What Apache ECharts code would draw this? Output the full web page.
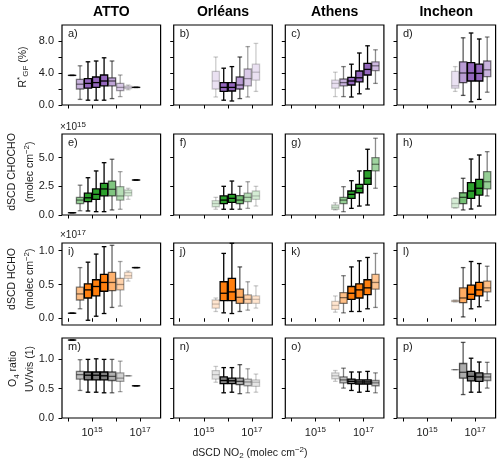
<!DOCTYPE html>
<html>
<head>
<meta charset="utf-8">
<script src="https://cdn.jsdelivr.net/npm/echarts@6/dist/echarts.min.js"></script>
<style>
  html, body { margin: 0; padding: 0; background: #fff; }
  #chart { width: 500px; height: 467px; }
</style>
</head>
<body>
<div id="chart"></div>
<script>
// stations (columns) and quantities (rows)
const stations = ["ATTO", "Orléans", "Athens", "Incheon"];
const panelLetters = ["a", "b", "c", "d", "e", "f", "g", "h", "i", "j", "k", "l", "m", "n", "o", "p"];

// log10 of the dSCD NO2 bin centres (molec cm-2), third-of-a-decade bins
const binLog = [14.17, 14.5, 14.83, 15.17, 15.5, 15.83, 16.17, 16.5, 16.83, 17.17, 17.5];
// first bin used at each station
const firstBin = [0, 4, 5, 6];

// opacity of each bin (scaled with number of measurements)
const alphaATTO = [0.8, 0.5, 1, 1, 1, 0.6, 0.35, 0.2, 0.8];
const alphaOrleans = [0.2, 1, 1, 0.65, 0.35, 0.2];
const alphaAthens = [0.2, 0.5, 1, 1, 1, 0.45];
const alphaIncheon = [0.2, 0.65, 1, 1, 0.5];

// box values: [whisker low, q1, median, q3, whisker high]
// R*GF (%)
const rgfATTO = [
  [3.7, 3.7, 3.7, 3.7, 3.7], [0.7, 2.0, 2.6, 3.2, 4.9], [0.6, 2.1, 2.7, 3.3, 5.4],
  [0.6, 2.2, 2.8, 3.5, 5.5], [0.6, 2.4, 3.0, 3.75, 5.9], [0.8, 2.4, 3.0, 3.4, 5.5],
  [1.05, 1.8, 2.2, 2.7, 3.75], [1.9, 2.05, 2.2, 2.35, 2.5], [2.2, 2.2, 2.2, 2.2, 2.2]
];
const rgfOrleans = [
  [1.0, 2.0, 3.0, 4.2, 6.0], [0.6, 1.7, 2.2, 2.8, 4.6], [0.5, 1.75, 2.2, 2.8, 4.8],
  [0.8, 2.0, 2.5, 3.5, 6.0], [1.0, 2.4, 3.3, 4.5, 7.3], [1.7, 3.1, 4.1, 5.1, 7.7]
];
const rgfAthens = [
  [1.05, 2.1, 2.7, 3.1, 4.1], [1.05, 2.4, 2.8, 3.25, 4.8], [1.0, 2.5, 3.0, 3.45, 5.1],
  [1.4, 2.9, 3.4, 4.25, 6.5], [2.0, 3.75, 4.45, 5.2, 7.4], [2.7, 4.3, 4.9, 5.4, 6.9]
];
const rgfIncheon = [
  [1.7, 2.1, 2.4, 4.2, 4.8], [1.2, 2.8, 4.0, 5.4, 8.4], [0.4, 3.0, 4.0, 5.3, 9.0],
  [0.7, 3.0, 3.95, 5.1, 8.25], [1.6, 3.55, 4.4, 5.5, 8.5]
];

// dSCD CHOCHO (x 1e15 molec cm-2)
const chochoATTO = [
  [0.2, 0.2, 0.2, 0.2, 0.2], [0.37, 1.0, 1.3, 1.54, 2.6], [0.35, 1.16, 1.5, 1.9, 3.25],
  [0.29, 1.37, 1.8, 2.27, 3.84], [0.29, 1.66, 2.27, 2.76, 4.56], [0.44, 1.66, 2.24, 2.96, 4.86],
  [0.5, 1.3, 1.66, 2.47, 3.78], [1.37, 1.66, 1.94, 2.18, 2.33], [3.05, 3.05, 3.05, 3.05, 3.05]
];
const chochoOrleans = [
  [0.5, 0.72, 1.0, 1.25, 1.54], [0.5, 1.0, 1.3, 1.66, 2.5], [0.5, 1.1, 1.45, 1.8, 2.96],
  [0.5, 1.0, 1.3, 1.69, 2.5], [0.58, 1.16, 1.54, 1.9, 2.9], [0.78, 1.37, 1.66, 2.09, 2.5]
];
const chochoAthens = [
  [0.44, 0.5, 0.67, 0.87, 1.07], [0.29, 1.0, 1.3, 1.54, 2.47], [0.58, 1.45, 1.8, 2.09, 2.99],
  [0.78, 1.94, 2.33, 2.67, 3.84], [0.87, 2.67, 3.2, 3.86, 5.73], [2.33, 3.84, 4.42, 5.0, 6.69]
];
const chochoIncheon = [
  [0.6, 0.64, 1.0, 1.45, 1.5], [0.44, 1.0, 1.54, 1.94, 3.2], [0.52, 1.45, 2.09, 2.82, 4.88],
  [0.78, 1.74, 2.33, 3.11, 5.23], [1.66, 2.27, 2.9, 3.78, 5.52]
];

// dSCD HCHO (x 1e17 molec cm-2)
const hchoATTO = [
  [0.074, 0.074, 0.074, 0.074, 0.074], [0.14, 0.27, 0.36, 0.46, 0.75], [-0.03, 0.30, 0.42, 0.51, 0.83],
  [0.03, 0.33, 0.47, 0.57, 0.95], [0.07, 0.40, 0.53, 0.65, 1.06], [0.16, 0.41, 0.53, 0.68, 1.08],
  [0.18, 0.42, 0.50, 0.59, 0.84], [0.55, 0.59, 0.63, 0.68, 0.70], [0.75, 0.75, 0.75, 0.75, 0.75]
];
const hchoOrleans = [
  [0.10, 0.15, 0.21, 0.27, 0.30], [0.08, 0.26, 0.37, 0.54, 0.96], [0.07, 0.26, 0.39, 0.59, 1.11],
  [0.10, 0.22, 0.31, 0.43, 0.76], [0.12, 0.22, 0.28, 0.345, 0.54], [0.15, 0.22, 0.28, 0.33, 0.48]
];
const hchoAthens = [
  [0.09, 0.13, 0.19, 0.25, 0.33], [0.08, 0.22, 0.305, 0.38, 0.63], [0.10, 0.28, 0.37, 0.47, 0.76],
  [0.10, 0.30, 0.42, 0.51, 0.85], [0.14, 0.35, 0.45, 0.57, 0.90], [0.16, 0.43, 0.53, 0.65, 0.96]
];
const hchoIncheon = [
  [0.24, 0.245, 0.255, 0.265, 0.27], [0.02, 0.23, 0.30, 0.45, 0.75], [0.14, 0.28, 0.355, 0.49, 0.84],
  [0.17, 0.33, 0.42, 0.53, 0.81], [0.26, 0.39, 0.45, 0.55, 0.77]
];

// O4 ratio UV/vis
const o4ATTO = [
  [1.33, 1.33, 1.33, 1.33, 1.33], [0.47, 0.665, 0.74, 0.795, 0.995], [0.44, 0.65, 0.73, 0.785, 1.0],
  [0.44, 0.65, 0.73, 0.785, 1.01], [0.43, 0.65, 0.72, 0.785, 1.0], [0.43, 0.64, 0.71, 0.785, 1.0],
  [0.45, 0.625, 0.68, 0.77, 0.97], [0.72, 0.72, 0.72, 0.72, 0.72], [0.55, 0.55, 0.55, 0.55, 0.55]
];
const o4Orleans = [
  [0.61, 0.665, 0.74, 0.81, 0.88], [0.43, 0.585, 0.64, 0.70, 0.86], [0.44, 0.585, 0.635, 0.68, 0.86],
  [0.415, 0.57, 0.625, 0.68, 0.91], [0.43, 0.55, 0.615, 0.665, 0.84], [0.44, 0.54, 0.61, 0.65, 0.75]
];
const o4Athens = [
  [0.625, 0.67, 0.72, 0.77, 0.81], [0.51, 0.60, 0.65, 0.70, 0.85], [0.47, 0.585, 0.625, 0.665, 0.785],
  [0.44, 0.58, 0.615, 0.65, 0.785], [0.455, 0.58, 0.615, 0.65, 0.795], [0.43, 0.55, 0.60, 0.64, 0.77]
];
const o4Incheon = [
  [0.825, 0.825, 0.825, 0.825, 0.825], [0.40, 0.68, 0.78, 0.93, 1.29], [0.44, 0.635, 0.71, 0.795, 1.02],
  [0.44, 0.625, 0.70, 0.77, 0.955], [0.51, 0.64, 0.70, 0.755, 0.95]
];

// axis ranges and ticks per row
const yMin = [0, 0, -0.1, 0];
const yMax = [10, 7.06, 1.114, 1.365];
const yTicks = [[0, 2, 4, 6, 8], [0, 2.5, 5], [0, 0.5, 1], [0, 0.5, 1]];
const yTickLabels = [[0, 4, 8], [0, 2.5, 5], [0, 0.5, 1], [0, 0.5, 1]];
const xTicks = [1e14, 1e15, 1e16, 1e17];
const xTickLabels = [1e15, 1e17];

const rowColors = ["#9467bd", "#2ca02c", "#ff7f0e", "#7f7f7f"];
const alphas = [alphaATTO, alphaOrleans, alphaAthens, alphaIncheon];
const rowData = [
  [rgfATTO, rgfOrleans, rgfAthens, rgfIncheon],
  [chochoATTO, chochoOrleans, chochoAthens, chochoIncheon],
  [hchoATTO, hchoOrleans, hchoAthens, hchoIncheon],
  [o4ATTO, o4Orleans, o4Athens, o4Incheon],
];

const colLeft = [62, 173.7, 285.3, 397];
const panelW = 98.6;
const rowTop = [25, 134, 243, 338];
const rowH = [80, 81, 82, 80];

const FONT = "Liberation Sans, Arial, sans-serif";
const TXT = "#1a1a1a";

const chart = echarts.init(document.getElementById("chart"), null, { renderer: "canvas" });

const renderBox = (color) => (params, api) => {
  const x = api.value(0);
  const a = api.value(6);
  const cx = api.coord([x, api.value(3)])[0];
  const yLo = api.coord([x, api.value(1)])[1];
  const yQ1 = api.coord([x, api.value(2)])[1];
  const yMed = api.coord([x, api.value(3)])[1];
  const yQ3 = api.coord([x, api.value(4)])[1];
  const yHi = api.coord([x, api.value(5)])[1];
  const hw = 3.6;
  const cw = 2.3;
  const line = { stroke: "#000", lineWidth: 1.3, opacity: a };
  return {
    type: "group",
    children: [
      { type: "line", shape: { x1: cx, y1: yQ3, x2: cx, y2: yHi }, style: line },
      { type: "line", shape: { x1: cx, y1: yQ1, x2: cx, y2: yLo }, style: line },
      { type: "line", shape: { x1: cx - cw, y1: yHi, x2: cx + cw, y2: yHi }, style: line },
      { type: "line", shape: { x1: cx - cw, y1: yLo, x2: cx + cw, y2: yLo }, style: line },
      {
        type: "rect",
        shape: { x: cx - hw, y: yQ3, width: hw * 2, height: Math.max(yQ1 - yQ3, 0.01) },
        style: { fill: color, stroke: "#000", lineWidth: 1.3, opacity: a },
      },
      { type: "line", shape: { x1: cx - hw, y1: yMed, x2: cx + hw, y2: yMed }, style: line },
    ],
  };
};

const grids = [];
const xAxes = [];
const yAxes = [];
const series = [];
const graphics = [];

for (let r = 0; r < 4; r++) {
  for (let c = 0; c < 4; c++) {
    const g = r * 4 + c;
    grids.push({
      left: colLeft[c],
      top: rowTop[r],
      width: panelW,
      height: rowH[r],
      show: true,
      borderColor: "#000",
      borderWidth: 1.2,
      backgroundColor: "transparent",
    });
    xAxes.push({
      type: "log",
      logBase: 10,
      gridIndex: g,
      min: Math.pow(10, 13.75),
      max: Math.pow(10, 17.85),
      axisLine: { show: false },
      splitLine: { show: false },
      axisTick: { show: true, length: 3.5, lineStyle: { color: "#000", width: 1 }, customValues: xTicks },
      axisLabel: {
        show: r === 3,
        customValues: xTickLabels,
        margin: 8,
        formatter: (v) => "10{sup|" + Math.round(Math.log10(v)) + "}",
        fontFamily: FONT,
        fontSize: 11,
        lineHeight: 14,
        color: TXT,
        rich: { sup: { fontSize: 8, verticalAlign: "top", lineHeight: 9, fontFamily: FONT, color: TXT } },
      },
    });
    yAxes.push({
      type: "value",
      gridIndex: g,
      min: yMin[r],
      max: yMax[r],
      axisLine: { show: false },
      splitLine: { show: false },
      axisTick: { show: true, length: 3.5, lineStyle: { color: "#000", width: 1 }, customValues: yTicks[r] },
      axisLabel: {
        show: c === 0,
        customValues: yTickLabels[r],
        margin: 8,
        formatter: (v) => v.toFixed(1),
        fontFamily: FONT,
        fontSize: 11,
        color: TXT,
      },
    });
    const vals = rowData[r][c];
    series.push({
      type: "custom",
      xAxisIndex: g,
      yAxisIndex: g,
      clip: false,
      renderItem: renderBox(rowColors[r]),
      encode: { x: 0, y: [1, 2, 3, 4, 5] },
      data: vals.map((b, i) => [Math.pow(10, binLog[firstBin[c] + i]), ...b, alphas[c][i]]),
    });
    graphics.push({
      type: "text",
      x: colLeft[c] + 6,
      y: rowTop[r] + 3,
      style: { text: panelLetters[g] + ")", font: "11px " + FONT, fill: TXT, textAlign: "left", textVerticalAlign: "top" },
    });
  }
}

// column titles
stations.forEach((s, c) => {
  graphics.push({
    type: "text",
    x: colLeft[c] + panelW / 2,
    y: 12,
    style: { text: s, font: "bold 14px " + FONT, fill: "#000", textAlign: "center", textVerticalAlign: "middle" },
  });
});

const richSub = {
  sub: { fontSize: 8, verticalAlign: "bottom", lineHeight: 9, fontFamily: FONT, fill: TXT, color: TXT },
  sup: { fontSize: 8, verticalAlign: "top", lineHeight: 9, fontFamily: FONT, fill: TXT, color: TXT },
};

const rotText = (text, x, y) => ({
  type: "text",
  x: x,
  y: y,
  rotation: Math.PI / 2,
  style: {
    text: text,
    fontFamily: FONT,
    fontSize: 10.5,
    lineHeight: 14,
    fill: TXT,
    align: "center",
    verticalAlign: "middle",
    rich: richSub,
  },
});

graphics.push(rotText("R{sup|*}{sub|GF} (%)", 23, 67));
graphics.push(rotText("dSCD CHOCHO", 11.7, 172));
graphics.push(rotText("(molec cm{sup|−2})", 30, 172));
graphics.push(rotText("dSCD HCHO", 11.7, 279));
graphics.push(rotText("(molec cm{sup|−2})", 30, 279));
graphics.push(rotText("O{sub|4} ratio", 13.3, 369));
graphics.push(rotText("UV/vis (1)", 30, 369));

// offset (exponent) labels
const offText = (text, x, y) => ({
  type: "text",
  x: x,
  y: y,
  style: {
    text: text,
    fontFamily: FONT,
    fontSize: 10,
    lineHeight: 13,
    fill: TXT,
    align: "left",
    verticalAlign: "middle",
    rich: richSub,
  },
});
graphics.push(offText("×10{sup|15}", 60, 127));
graphics.push(offText("×10{sup|17}", 60, 235));

// x axis title
graphics.push({
  type: "text",
  x: 250,
  y: 453,
  style: {
    text: "dSCD NO{sub|2} (molec cm{sup|−2})",
    fontFamily: FONT,
    fontSize: 10.5,
    lineHeight: 14,
    fill: TXT,
    align: "center",
    verticalAlign: "middle",
    rich: richSub,
  },
});

chart.setOption({
  animation: false,
  backgroundColor: "#fff",
  grid: grids,
  xAxis: xAxes,
  yAxis: yAxes,
  series: series,
  graphic: { elements: graphics },
});
</script>
</body>
</html>
